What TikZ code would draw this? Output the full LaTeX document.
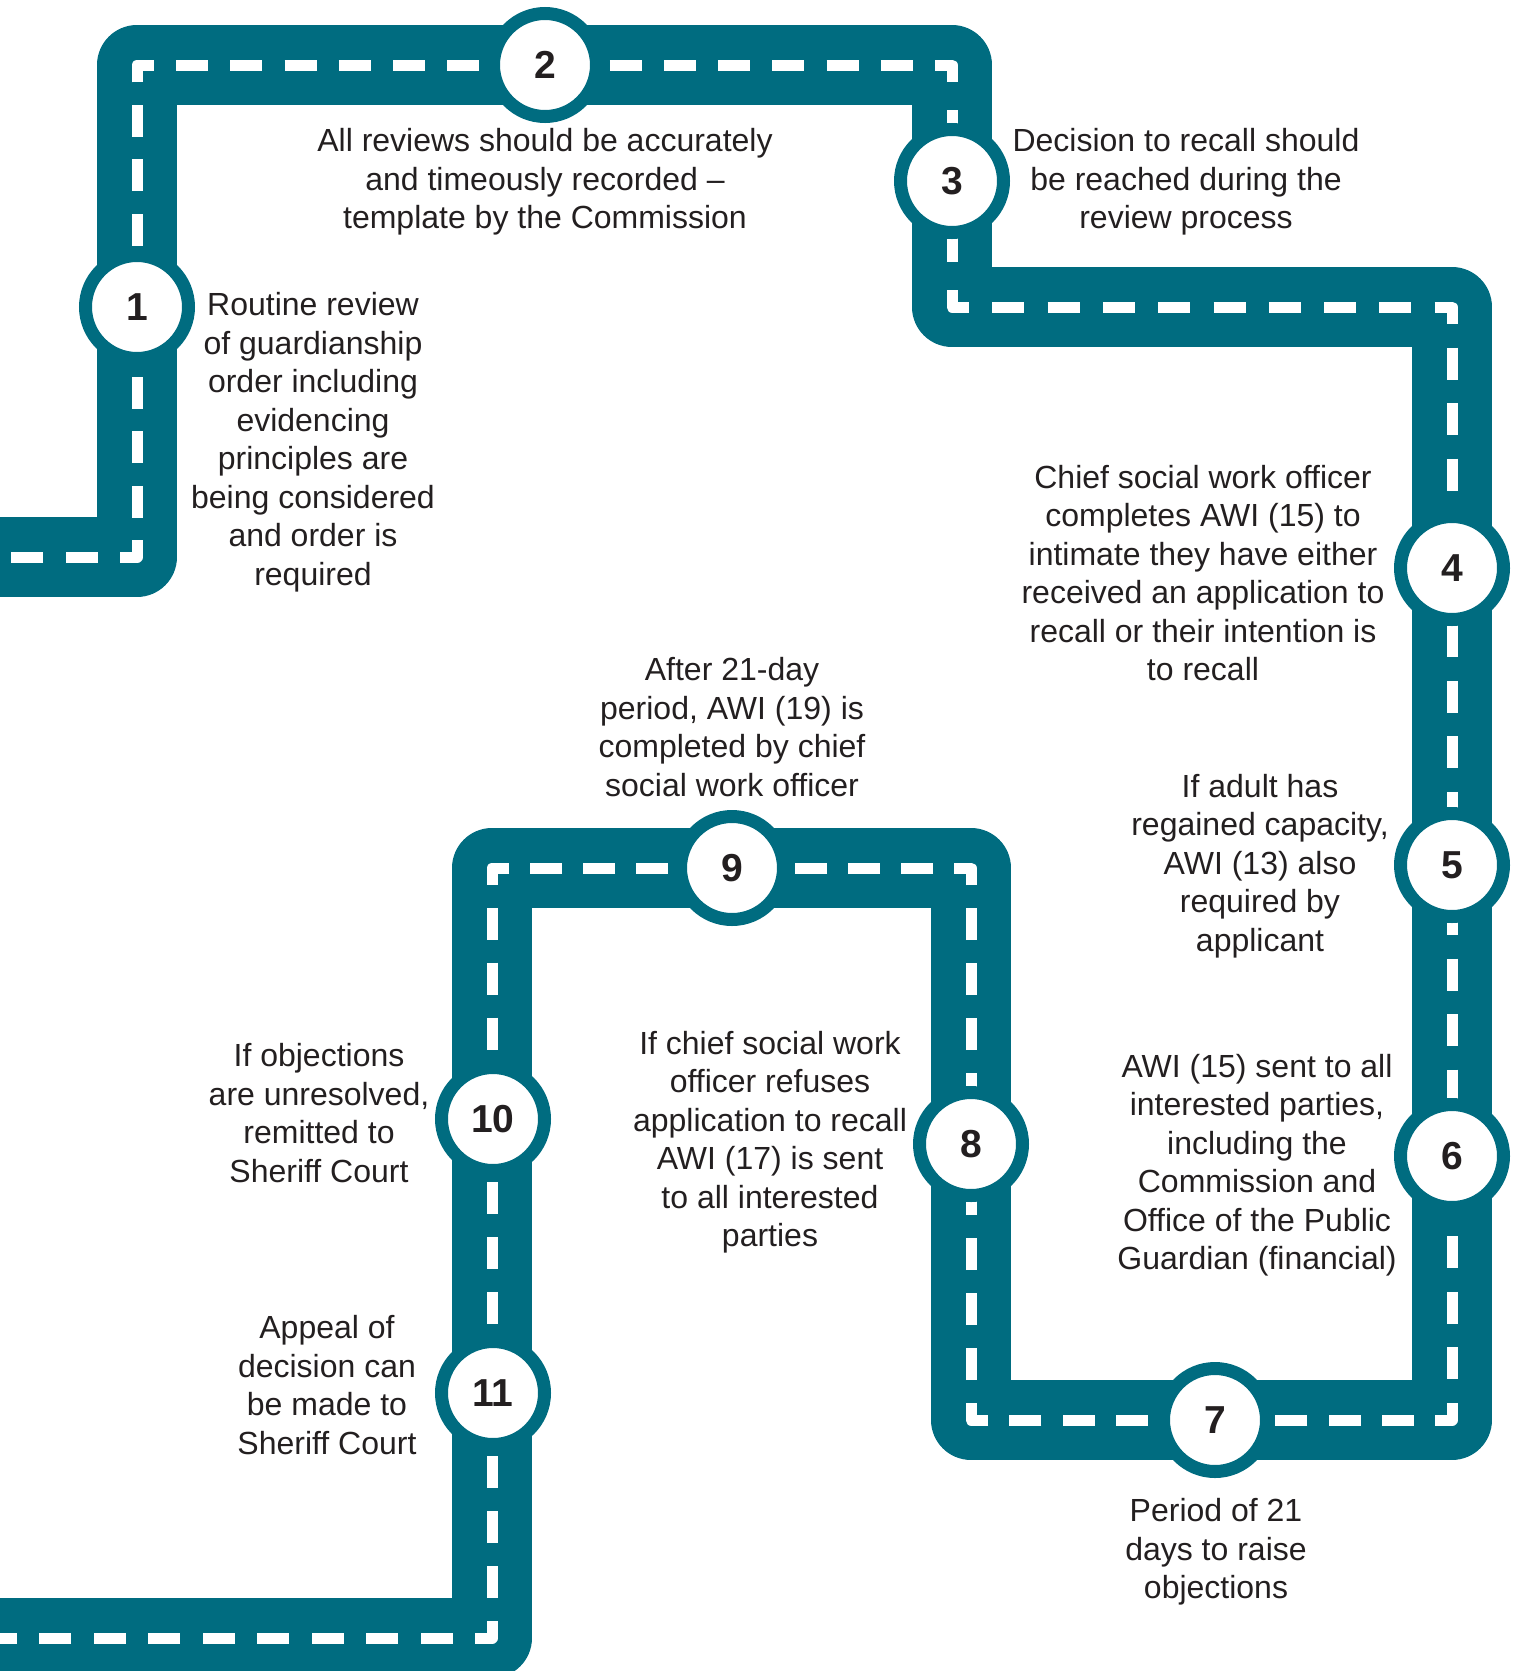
\documentclass[tikz,border=0pt]{standalone}
\usepackage{fontspec}
\setmainfont{Liberation Sans}
\usetikzlibrary{calc}
\definecolor{roadc}{RGB}{0,108,128}
\definecolor{textc}{RGB}{35,31,32}
\begin{document}
\begin{tikzpicture}[x=1pt,y=-1pt,
  road/.style={line width=80pt, draw=roadc, line join=round},
  mid/.style={line width=11pt, draw=white},
  stop/.style={circle, fill=white, draw=roadc, line width=13pt, minimum size=103pt, inner sep=0pt, font=\fontsize{39}{39}\selectfont\bfseries, text=textc},
  lbl/.style={align=center, inner sep=0pt, font=\fontsize{32}{38.5}\selectfont, text=textc}]
\useasboundingbox (0,0) rectangle (1523,1671);
\clip (0,0) rectangle (1523,1671);
\coordinate (p0) at (-20,557);
\coordinate (p1) at (137,557);
\coordinate (p2) at (137,65);
\coordinate (p3) at (952,65);
\coordinate (p4) at (952,307);
\coordinate (p5) at (1452,307);
\coordinate (p6) at (1452,1420);
\coordinate (p7) at (971,1420);
\coordinate (p8) at (971,868);
\coordinate (p9) at (492,868);
\coordinate (p10) at (492,1638);
\coordinate (p11) at (-20,1638);
% road
\draw[road] (p0) -- (p1) -- (p2) -- (p3) -- (p4) -- (p5) -- (p6) -- (p7) -- (p8) -- (p9) -- (p10) -- (p11);
% centre dashes
\draw[mid, dash pattern=on 32pt off 22.5pt, dash phase=15pt] (p1) -- (p0);
\draw[mid, dash pattern=on 32pt off 22.4pt, dash phase=15pt] (p1) -- (p2);
\draw[mid, dash pattern=on 32pt off 22.2pt, dash phase=15pt] (p2) -- (p3);
\draw[mid, dash pattern=on 32pt off 28pt, dash phase=15pt] (p3) -- (p4);
\draw[mid, dash pattern=on 32pt off 23.3pt, dash phase=15pt] (p4) -- (p5);
\draw[mid, dash pattern=on 32pt off 23.55pt, dash phase=15pt] (p5) -- (p6);
\draw[mid, dash pattern=on 32pt off 21.2pt, dash phase=15pt] (p6) -- (p7);
\draw[mid, dash pattern=on 32pt off 23pt, dash phase=15pt] (p7) -- (p8);
\draw[mid, dash pattern=on 32pt off 21pt, dash phase=15pt] (p8) -- (p9);
\draw[mid, dash pattern=on 32pt off 22.86pt, dash phase=15pt] (p9) -- (p10);
\draw[mid, dash pattern=on 32pt off 22.5pt, dash phase=15pt] (p10) -- (p11);
% corner pieces
\foreach \a/\b/\c in {p0/p1/p2, p1/p2/p3, p2/p3/p4, p3/p4/p5, p4/p5/p6, p5/p6/p7, p6/p7/p8, p7/p8/p9, p8/p9/p10, p9/p10/p11}{
  \draw[mid, line join=round] ($(\b)!17pt!(\a)$) -- (\b) -- ($(\b)!17pt!(\c)$);
}
% stops
\node[stop] (c1) at (137,307) {1};
\node[stop] (c2) at (545,65) {2};
\node[stop] (c3) at (952,181) {3};
\node[stop] (c4) at (1452,568) {4};
\node[stop] (c5) at (1452,865) {5};
\node[stop] (c6) at (1452,1156) {6};
\node[stop] (c7) at (1215,1420) {7};
\node[stop] (c8) at (971,1144) {8};
\node[stop] (c9) at (732,868) {9};
\node[stop] (c10) at (493,1119) {10};
\node[stop] (c11) at (493,1393) {11};
% labels
\node[lbl] (t1) at (313,442) {Routine review\\of guardianship\\order including\\evidencing\\principles are\\being considered\\and order is\\required};
\node[lbl] (t2) at (545,182) {All reviews should be accurately\\and timeously recorded –\\template by the Commission};
\node[lbl] (t3) at (1186,182) {Decision to recall should\\be reached during the\\review process};
\node[lbl] (t4) at (1203,573) {Chief social work officer\\completes AWI (15) to\\intimate they have either\\received an application to\\recall or their intention is\\to recall};
\node[lbl] (t5) at (1260,866) {If adult has\\regained capacity,\\AWI (13) also\\required by\\applicant};
\node[lbl] (t6) at (1257,1165) {AWI (15) sent to all\\interested parties,\\including the\\Commission and\\Office of the Public\\Guardian (financial)};
\node[lbl] (t7) at (1216,1552) {Period of 21\\days to raise\\objections};
\node[lbl] (t8) at (770,1142) {If chief social work\\officer refuses\\application to recall\\AWI (17) is sent\\to all interested\\parties};
\node[lbl] (t9) at (732,727) {After 21-day\\period, AWI (19) is\\completed by chief\\social work officer};
\node[lbl] (t10) at (319,1113) {If objections\\are unresolved,\\remitted to\\Sheriff Court};
\node[lbl] (t11) at (327,1385) {Appeal of\\decision can\\be made to\\Sheriff Court};
\end{tikzpicture}
\end{document}
